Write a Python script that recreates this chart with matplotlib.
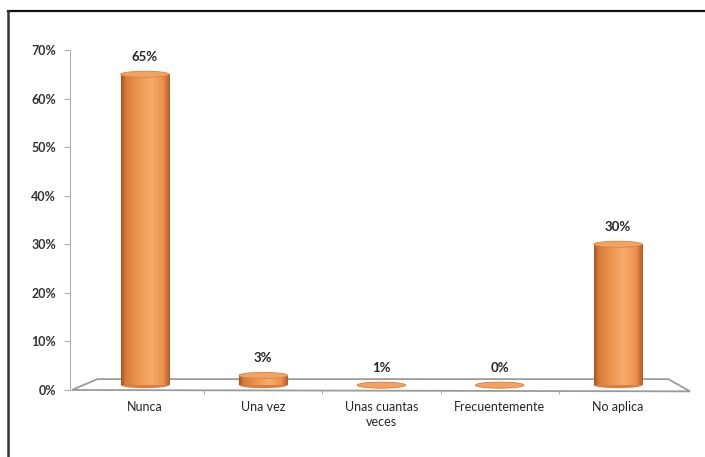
import numpy as np
import matplotlib
matplotlib.use("Agg")
import matplotlib.pyplot as plt
from matplotlib.patches import Rectangle, Ellipse, Polygon
from matplotlib.colors import LinearSegmentedColormap
from matplotlib.lines import Line2D

categories = ['Nunca', 'Una vez', 'Unas cuantas\nveces', 'Frecuentemente', 'No aplica']
values = [65, 3, 1, 0, 30]
labels = ['65%', '3%', '1%', '0%', '30%']
yticks = [0, 10, 20, 30, 40, 50, 60, 70]

plt.rcParams['font.family'] = ['Lato', 'DejaVu Sans']

W, H = 705, 457
fig = plt.figure(figsize=(W / 100, H / 100), dpi=100)
ax = fig.add_axes([70 / W, 1 - 390 / H, 620 / W, 340 / H])

ax.set_xlim(-0.634, 4.609)
ax.set_ylim(0, 70)

# cylinder shading
cyl = LinearSegmentedColormap.from_list('cyl', [
    (0.0, '#a9531f'), (0.1, '#d97b3b'), (0.4, '#f09a55'),
    (0.62, '#f7ab6b'), (0.86, '#ec914e'), (1.0, '#b35b26')])
grad = np.linspace(0, 1, 256).reshape(1, -1)

# floor (axes fraction)
floor = Polygon([(0.003, 0.0), (0.044, 0.032), (0.965, 0.032), (1.0, -0.004)],
                closed=True, transform=ax.transAxes, facecolor='white',
                edgecolor='#9a9a9a', lw=1.3, clip_on=False, zorder=1)
ax.add_patch(floor)

bw = 0.41
eh = 1.25
base = 1.0
for i, v in enumerate(values):
    top = max(v, base)
    # base ellipse
    ax.add_patch(Ellipse((i, base), bw, eh, facecolor='#d97f40',
                         edgecolor='none', zorder=2))
    if top > base:
        rect = Rectangle((i - bw / 2, base), bw, top - base, facecolor='none',
                         edgecolor='none')
        ax.add_patch(rect)
        im = ax.imshow(grad, cmap=cyl, aspect='auto', zorder=3,
                       extent=[i - bw / 2, i + bw / 2, base, top])
        im.set_clip_path(rect)
    ax.add_patch(Ellipse((i, top), bw, eh, facecolor='#f2a362',
                         edgecolor='#d88445', lw=0.6, zorder=4))
    ax.annotate(labels[i], (i, top + eh / 2), xytext=(0, 6),
                textcoords='offset points', ha='center', va='bottom',
                fontsize=9.5, fontweight='bold', color='#262626', zorder=5)

ax.set_xticks(range(len(categories)))
ax.set_xticklabels(categories, fontsize=9, color='#262626', linespacing=1.3)
ax.tick_params(axis='x', which='major', length=0, pad=8)
ax.set_xticks([0.5, 1.5, 2.5, 3.5], minor=True)
ax.tick_params(axis='x', which='minor', length=3, color='#9a9a9a')

ax.set_yticks(yticks)
ax.set_yticklabels([f'{t}%' for t in yticks], fontsize=9,
                   fontweight='bold', color='#333333')
ax.tick_params(axis='y', length=4, color='#b0b0b0', pad=6)

for s in ['top', 'right', 'bottom']:
    ax.spines[s].set_visible(False)
ax.spines['left'].set_color('#b0b0b0')
ax.patch.set_visible(False)

# frame lines (top and left only)
fig.add_artist(Line2D([8 / W, 1], [1 - 11 / H, 1 - 11 / H], color='#111111', lw=1.6))
fig.add_artist(Line2D([8 / W, 8 / W], [0, 1 - 11 / H], color='#333333', lw=1.8))

fig.savefig('out.png', dpi=100)
